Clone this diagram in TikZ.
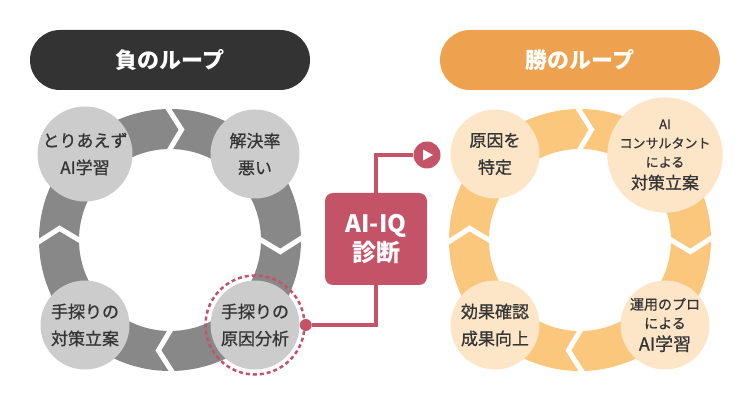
\documentclass[tikz,border=0pt]{standalone}
\usepackage{fontspec}
\setmainfont{Noto Sans CJK JP}
\newfontfamily\stagefont[FakeBold=0.8]{Noto Sans CJK JP}
\usetikzlibrary{positioning}

\definecolor{headdark}{HTML}{333333}
\definecolor{headorange}{HTML}{EEA24F}
\definecolor{ringgray}{HTML}{888888}
\definecolor{stagegray}{HTML}{CCCCCC}
\definecolor{ringorange}{HTML}{FBC77C}
\definecolor{stageorange}{HTML}{FDE5C7}
\definecolor{crimson}{HTML}{C45368}
\definecolor{textdark}{HTML}{353535}

\begin{document}
\begin{tikzpicture}[x=1pt,y=1pt,
    header/.style={rounded corners=30pt,minimum width=280pt,minimum height=60pt,
      text=white,font=\bfseries\fontsize{22}{26}\selectfont},
    stage/.style={circle,minimum size=89pt,inner sep=0pt,align=center,text=textdark,
      font=\stagefont\fontsize{17}{27}\selectfont},
    chev/.style={white,line width=5pt,line join=miter},
    link/.style={draw=crimson,line width=3.3pt}]
  \useasboundingbox (0,0) rectangle (750,410);

  % headers
  \node[header,fill=headdark] (neg) at (170,350) {負のループ};
  \node[header,fill=headorange] (win) at (580,350) {勝のループ};

  % rings
  \fill[ringgray,even odd rule] (170,170) circle[radius=131] (170,170) circle[radius=91];
  \fill[ringorange,even odd rule] (580,170) circle[radius=131] (580,170) circle[radius=91];
  \foreach \cx in {170,580}
    \foreach \a in {90,0,-90,180}
      \draw[chev,shift={(\cx,170)}] (\a+2:136) -- (\a-6:111) -- (\a+2:86);

  % negative loop
  \node[stage,fill=stagegray] (ltl) at (85,256) {とりあえず\\AI学習};
  \node[stage,fill=stagegray] (ltr) at (255,256) {解決率\\悪い};
  \node[stage,fill=stagegray] (lbr) at (255,85) {手探りの\\原因分析};
  \node[stage,fill=stagegray] (lbl) at (85,85) {手探りの\\対策立案};

  % winning loop
  \node[stage,fill=stageorange] (rtl) at (495,256) {原因を\\特定};
  \node[stage,fill=stageorange] (rtr) at (665,255)
    {{\fontsize{13}{19}\selectfont AI}\\[-8pt]
     {\fontsize{13}{18}\selectfont コンサルタント}\\[-8pt]
     {\fontsize{13}{18}\selectfont による}\\[-5pt]
     対策立案};
  \node[stage,fill=stageorange] (rbr) at (665,85)
    {{\fontsize{14}{18}\selectfont 運用のプロ}\\[-8pt]
     {\fontsize{14}{18}\selectfont による}\\[-5pt]
     {\fontsize{18}{22}\selectfont AI学習}};
  \node[stage,fill=stageorange] (rbl) at (495,85) {効果確認\\成果向上};

  % diagnosis
  \node[circle,draw=crimson,dashed,dash pattern=on 4pt off 3pt,line width=2.5pt,
    minimum size=99pt,inner sep=0pt] (focus) at (lbr) {};
  \node[circle,fill=crimson,minimum size=12pt,inner sep=0pt] (dot) at (focus.east) {};
  \node[circle,fill=crimson,minimum size=27pt,inner sep=0pt] (play) at (427,255) {};
  \fill[white] (play.center) ++(-4,-5.5) -- ++(10,5.5) -- ++(-10,5.5) -- cycle;
  \node[fill=crimson,rounded corners=8pt,minimum width=102pt,minimum height=92pt,
    align=center,text=white,font=\bfseries\fontsize{24}{29}\selectfont] (iq) at (376,171) {AI-IQ\\診断};
  \draw[link] (dot) -| (iq.south);
  \draw[link] (iq.north) |- (play);
\end{tikzpicture}
\end{document}
